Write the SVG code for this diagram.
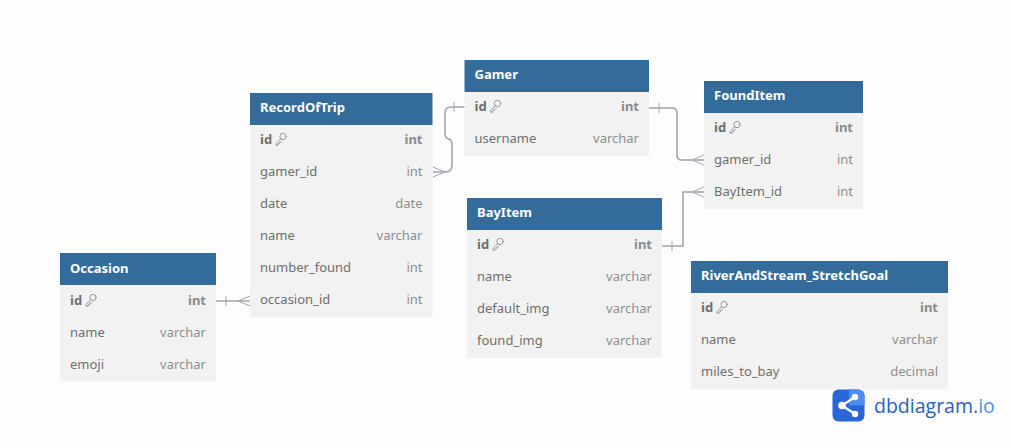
<svg xmlns="http://www.w3.org/2000/svg" width="1012" height="448" viewBox="0 0 1012 448">
<style>
text{font-family:"Noto Sans","Open Sans",sans-serif;font-size:13px;fill:#6f6f6f}
.h{fill:#336b9b}
.r{fill:#f2f2f2}
.t{font-weight:700;fill:#fff}
.b{font-weight:700}
.ty{fill:#8f8f8f;text-anchor:end}
.ty.b{fill:#8a8a8a}
.k{fill:none;stroke:#858585;stroke-width:.8;stroke-linecap:round}
.c{fill:none;stroke:#a3a3ad;stroke-width:1.6}
.m{fill:none;stroke:#a3a3ad;stroke-width:1}
</style>
<defs>
<g id="key"><circle cx="4.500" cy="-4" r="3.200" class="k"/><path class="k" d="M2.300 -1.800L-2.600 3.200v1.500h2.100l.2-1.500h1.400v-1.400h1.300l1-1"/></g>
</defs>
<rect width="1012" height="448" fill="#fdfdfd"/>
<g id="connectors">
<path class="c" d="M465 107H451Q445 107 445 113V133Q445 139 449 139Q452 140 452 145V165Q452 172 445 172H433"/>
<path class="m" d="M454 102V112M433 167L445 172M433 177L445 172"/>
<path class="c" d="M649 108H672Q677 108 677 113V155Q677 160 682 160H704"/>
<path class="m" d="M659 103V113M704 155L692 160M704 165L692 160"/>
<path class="c" d="M662 246H683V192H704"/>
<path class="m" d="M672 241V251M704 187L692 192M704 197L692 192"/>
<path class="c" d="M216 301H250"/>
<path class="m" d="M226 296V306M250 296L238 301M250 306L238 301"/>
</g>
<g id="RecordOfTrip">
<rect x="250" y="125" width="182.500" height="192" class="r"/><rect x="250" y="93" width="182.500" height="32" class="h"/>
<text x="260" y="112" class="t">RecordOfTrip</text>
<text x="260" y="144" class="b">id</text><use href="#key" x="278.500" y="140.500"/><text x="422.500" y="144" class="ty b">int</text>
<text x="260" y="176">gamer_id</text><text x="422.500" y="176" class="ty">int</text>
<text x="260" y="208">date</text><text x="422.500" y="208" class="ty">date</text>
<text x="260" y="240">name</text><text x="422.500" y="240" class="ty">varchar</text>
<text x="260" y="272">number_found</text><text x="422.500" y="272" class="ty">int</text>
<text x="260" y="304">occasion_id</text><text x="422.500" y="304" class="ty">int</text>
</g>
<g id="Gamer">
<rect x="464.500" y="92" width="184.500" height="64" class="r"/><rect x="464.500" y="60" width="184.500" height="32" class="h"/>
<text x="474.500" y="79" class="t">Gamer</text>
<text x="474.500" y="111" class="b">id</text><use href="#key" x="493" y="107.500"/><text x="639" y="111" class="ty b">int</text>
<text x="474.500" y="143">username</text><text x="639" y="143" class="ty">varchar</text>
</g>
<g id="FoundItem">
<rect x="704" y="113" width="159" height="96" class="r"/><rect x="704" y="81" width="159" height="32" class="h"/>
<text x="714" y="100" class="t">FoundItem</text>
<text x="714" y="132" class="b">id</text><use href="#key" x="732.500" y="128.500"/><text x="853" y="132" class="ty b">int</text>
<text x="714" y="164">gamer_id</text><text x="853" y="164" class="ty">int</text>
<text x="714" y="196">BayItem_id</text><text x="853" y="196" class="ty">int</text>
</g>
<g id="BayItem">
<rect x="467" y="230" width="195" height="128" class="r"/><rect x="467" y="198" width="195" height="32" class="h"/>
<text x="477" y="217" class="t">BayItem</text>
<text x="477" y="249" class="b">id</text><use href="#key" x="495.500" y="245.500"/><text x="652" y="249" class="ty b">int</text>
<text x="477" y="281">name</text><text x="652" y="281" class="ty">varchar</text>
<text x="477" y="313">default_img</text><text x="652" y="313" class="ty">varchar</text>
<text x="477" y="345">found_img</text><text x="652" y="345" class="ty">varchar</text>
</g>
<g id="RiverAndStream_StretchGoal">
<rect x="691" y="293" width="257" height="96" class="r"/><rect x="691" y="261" width="257" height="32" class="h"/>
<text x="701" y="280" class="t">RiverAndStream_StretchGoal</text>
<text x="701" y="312" class="b">id</text><use href="#key" x="719.500" y="308.500"/><text x="938" y="312" class="ty b">int</text>
<text x="701" y="344">name</text><text x="938" y="344" class="ty">varchar</text>
<text x="701" y="376">miles_to_bay</text><text x="938" y="376" class="ty">decimal</text>
</g>
<g id="Occasion">
<rect x="60" y="285" width="156" height="96" class="r"/><rect x="60" y="253" width="156" height="32" class="h"/>
<text x="70" y="273" class="t">Occasion</text>
<text x="70" y="305" class="b">id</text><use href="#key" x="88.500" y="301.500"/><text x="206" y="305" class="ty b">int</text>
<text x="70" y="337">name</text><text x="206" y="337" class="ty">varchar</text>
<text x="70" y="369">emoji</text><text x="206" y="369" class="ty">varchar</text>
</g>
<g id="logo">
<rect x="832.500" y="389.500" width="32" height="32" rx="6" fill="#2b66d6"/>
<path d="M849 389.500h9.500a6 6 0 0 1 6 6v10h-15.500z" fill="#4d8df0"/>
<path d="M842 405.500L855 397M842 405.500L855 414" stroke="#fff" stroke-width="2.200" fill="none"/>
<circle cx="842" cy="405.500" r="3.800" fill="#fff"/><circle cx="855" cy="397" r="3.200" fill="#fff"/><circle cx="855" cy="414" r="3.200" fill="#fff"/>
<text x="874" y="412.500" style="font-size:19.500px;fill:#2a62c4;font-family:'Open Sans','Noto Sans',sans-serif">dbdiagram.<tspan style="fill:#4d8df0">io</tspan></text>
</g>
</svg>
